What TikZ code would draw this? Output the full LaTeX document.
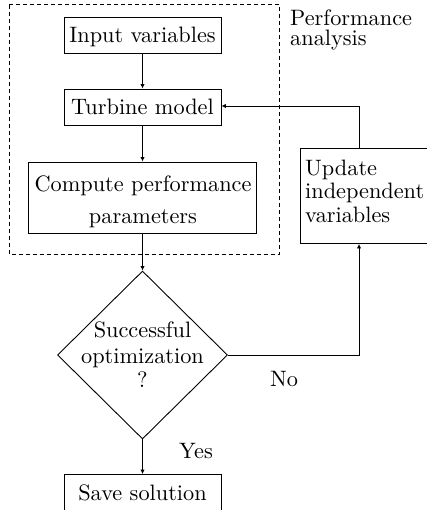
\documentclass[tikz,border=0pt]{standalone}
\usepackage{fontspec}
\setmainfont{lmroman10-regular.otf}
\usetikzlibrary{shapes.geometric,arrows.meta}
\begin{document}
\begin{tikzpicture}[x=1pt,y=-1pt,
  every node/.style={font=\fontsize{22.3}{24}\selectfont,inner sep=0pt},
  box/.style={draw,line width=0.9pt,align=center},
  onel/.style={text height=15.5pt,text depth=0pt},
  arr/.style={line width=0.9pt,-{Latex[length=4.5pt,width=4.5pt]}}]
\useasboundingbox (0,0) rectangle (427,510);
\draw[line width=0.9pt,dash pattern=on 4pt off 3pt] (9,4.7) rectangle (279.5,254);
\node[anchor=north west,align=left,font=\fontsize{22.3}{20}\selectfont] (pa) at (290,10) {Performance\\analysis};
\node[box,onel,minimum width=157pt,minimum height=36pt] (in) at (142.5,35) {Input variables};
\node[box,onel,minimum width=157pt,minimum height=36pt] (tm) at (142.5,107) {Turbine model};
\node[box,minimum width=228pt,minimum height=71pt] (cp) at (142.5,197.5) {};
\node[anchor=north,align=center] (cpt) at (143,175.5) {Compute performance\\[7.7pt]parameters};
\node[box,minimum width=127pt,minimum height=95pt] (up) at (363.5,196) {};
\node[anchor=north west,align=left,font=\fontsize{22.3}{23.7}\selectfont] (upt) at (305,159.5) {Update\\independent\\variables};
\node[diamond,draw,line width=0.9pt,minimum width=170pt,minimum height=168pt] (dia) at (142.5,355) {};
\node[anchor=north,align=center,font=\fontsize{22.3}{23.3}\selectfont] (dt) at (142.5,321.2) {Successful\\[3.4pt]optimization\\?};
\node[box,onel,minimum width=157pt,minimum height=36pt] (sv) at (142.5,492.5) {Save solution};
\node[anchor=base] (no) at (284,386.5) {No};
\node[anchor=base] (yes) at (196,458) {Yes};
\coordinate (c2) at (359,106);
\coordinate (c1) at (dia.east -| c2);
\draw[arr] (in) -- (tm);
\draw[arr] (tm) -- (cp);
\draw[arr] (cp) -- (dia.north);
\draw[arr] (dia.south) -- (sv);
\draw[arr] (dia.east) -- (c1) -- (up.south -| c1);
\draw[arr] (up.north -| c2) -- (c2) -- (tm.east |- c2);
\end{tikzpicture}
\end{document}
